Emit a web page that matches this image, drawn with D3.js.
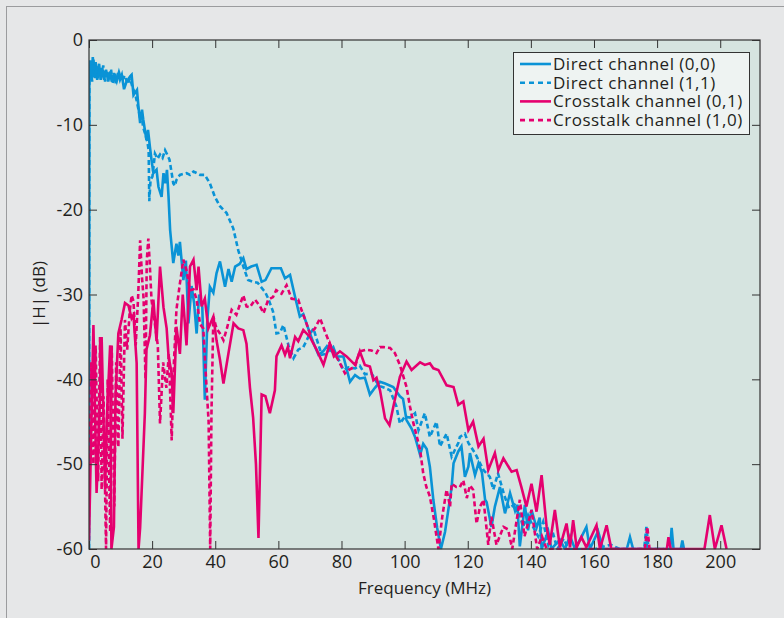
<!DOCTYPE html>
<html>
<head>
<meta charset="utf-8">
<script src="https://cdn.jsdelivr.net/npm/d3@7"></script>
<style>
  html, body { margin: 0; padding: 0; background: #e6e7e8; }
  svg { display: block; font-family: "Open Sans", "Noto Sans", sans-serif; }
</style>
</head>
<body>
<svg id="chart" width="784" height="618"></svg>
<script>
// frequency (MHz), |H| (dB)
const direct00 = [
  [0,-60],[0.1,-5.5],[0.3,-2.4],[0.8,-4.7],[1.2,-2.0],[1.6,-4.3],[2.1,-2.6],[2.6,-4.7],
  [3.2,-2.8],[3.7,-4.7],[4.2,-3.3],[4.8,-4.7],[5.4,-3.5],[6.1,-4.9],[6.7,-3.7],[7.2,-4.9],
  [7.9,-3.9],[8.5,-5.1],[9.2,-3.9],[9.8,-4.7],[10.4,-4.1],[11.1,-5.8],[11.9,-4.9],[13.0,-4.3],
  [13.5,-4.1],[14.1,-6.5],[15.2,-5.9],[15.7,-8],[16.2,-9.8],[16.8,-8.2],[17.2,-9.4],[18.2,-11.8],
  [18.7,-10.6],[19.3,-12.6],[19.8,-14.1],[20.4,-15.7],[21.4,-15.3],[22.0,-17.3],[23.0,-18.5],
  [23.6,-15.7],[24.2,-16.9],[24.7,-15.3],[25.2,-18.5],[25.7,-22.4],[26.7,-26.3],[27.7,-24],
  [28.3,-25.4],[28.8,-23.8],[29.9,-28.3],[30.7,-26],[31.5,-33.4],[32.5,-29],[33.3,-31],
  [34.1,-34.6],[34.9,-30],[35.9,-31.5],[36.7,-42.4],[37.5,-33],[38.3,-29.1],[39.4,-29.8],
  [40.4,-27.5],[41.5,-26.1],[43.1,-29.1],[44.2,-27],[45.2,-28.5],[46.3,-26.7],[47.7,-26.4],
  [48.9,-25.7],[49.9,-27],[51.4,-26.7],[53.1,-26.5],[54.7,-28.5],[55.9,-28.3],[57.8,-26.9],
  [59.4,-26.9],[60.8,-26.9],[62.1,-28.1],[63.7,-27.7],[65.3,-30.3],[66.8,-32.6],[67.9,-32.3],
  [68.9,-33.4],[71.1,-35.7],[72.7,-37.1],[74.2,-36.7],[75.4,-36.1],[76.4,-36.6],[77.4,-36.2],
  [78.5,-37.3],[80.6,-37.3],[82.7,-40.3],[84.3,-39.5],[85.8,-39.9],[87.4,-39.8],[89.0,-41.8],
  [90.6,-41],[92.2,-40.3],[93.8,-40.5],[96.4,-40.9],[98.5,-42],[99.5,-42.3],[100.6,-44.8],
  [102.2,-45.8],[103.3,-46.8],[104.9,-48.9],[105.9,-47.6],[107.0,-48.2],[108.0,-50.3],
  [109.1,-54.2],[110.3,-57.5],[111.5,-60],[112.8,-58],[114.0,-55],[114.9,-52.7],[115.5,-49.9],
  [117.0,-48.5],[118.0,-47.9],[119.1,-51.5],[120.2,-50.3],[120.7,-48.7],[122.3,-51.3],
  [123.4,-49.9],[124.5,-51],[125.5,-54.2],[126.0,-54.5],[127.5,-57.4],[128.6,-55],[130.2,-52.7],
  [131.8,-55.8],[133.4,-53.4],[135.0,-55.5],[135.7,-54.8],[136.5,-59.7],[138.1,-54.8],
  [139.1,-57.8],[140.2,-55.4],[141.8,-57.5],[142.8,-56.3],[143.4,-60],[145.5,-57.9],[146.5,-60],
  [149.2,-58.9],[150.8,-60],[152.4,-58.5],[154.0,-60],[156.0,-58.6],[157.6,-57.4],[158.7,-60],
  [161.3,-57.9],[162.9,-60],[170.4,-60],[171.4,-58.6],[172.4,-60],[176.1,-60],[176.6,-59.3],
  [177.1,-60],[184.1,-60],[184.6,-57.5],[185.2,-60],[187.5,-60],[188.0,-59],[188.5,-60]
];

const direct11 = [
  [0,-60],[0.1,-4.5],[0.5,-3],[1.0,-4.9],[1.4,-2.3],[1.9,-4.5],[2.4,-3.1],[2.9,-4.5],
  [3.5,-3.4],[4.0,-4.4],[4.5,-3],[5.1,-4.9],[5.7,-3.6],[6.4,-4.6],[7.0,-3.5],[7.5,-5.2],
  [8.2,-4],[8.8,-4.8],[9.5,-3.8],[10.1,-4.5],[10.7,-4.6],[11.4,-4.2],[12.2,-5.2],[13.0,-4.5],
  [13.8,-5.6],[14.6,-6.3],[15.3,-7.5],[16.0,-8.8],[16.6,-8.4],[17.1,-10.2],[17.9,-11.2],
  [18.5,-12],[18.9,-13],[19.1,-19],[19.5,-16.5],[20.1,-16.1],[20.9,-13.4],[21.7,-14],
  [22.5,-13.5],[23.3,-13.9],[24.1,-13],[24.9,-13.6],[25.5,-14.1],[26.2,-15.7],[26.7,-16.9],
  [27.2,-17.2],[27.7,-16.5],[28.8,-15.9],[29.8,-15.8],[30.9,-15.7],[32.0,-15.9],[33.1,-15.5],
  [34.2,-15.7],[35.2,-15.9],[36.7,-15.9],[38.3,-16.9],[39.9,-18.5],[41.5,-19.6],[43.6,-20.4],
  [45.7,-22.2],[47.3,-24.8],[48.9,-26.7],[50.4,-28.3],[51.9,-28.5],[53.4,-28.6],[55.3,-29.5],
  [55.8,-29.7],[56.8,-30.5],[58.3,-32],[59.4,-34.6],[60.5,-34.5],[61.6,-33.6],[63.2,-36],
  [64.8,-37.5],[66.3,-36.5],[67.9,-36.2],[69.5,-35],[71.1,-34],[72.1,-35.2],[73.7,-37.1],
  [75.2,-37],[76.3,-36.3],[77.4,-36.9],[79.0,-37.6],[80.6,-38.9],[82.2,-38.6],[84.3,-38.7],
  [85.8,-38.4],[87.4,-39.4],[89.5,-39.3],[91.1,-40.3],[92.2,-40.8],[93.7,-41],[95.4,-41.3],
  [97.4,-43.2],[98.5,-45.2],[100.1,-44.4],[101.7,-44.5],[103.3,-44],[104.4,-46],[106.4,-44],
  [108.0,-46.8],[110.1,-45],[111.2,-47.9],[113.3,-46.4],[114.9,-49.1],[117.0,-47.5],
  [117.5,-46.8],[119.1,-46.4],[120.2,-47.5],[122.3,-48.7],[125.0,-50.7],[127.0,-51.5],
  [128.1,-53],[129.6,-51.1],[131.6,-53.7],[133.1,-55.2],[135.5,-54.6],[137.5,-57.4],[139.1,-56],
  [140.7,-57.4],[142.3,-58.5],[143.9,-56.8],[145.5,-59.5],[146.9,-58],[148.4,-60],[150.4,-58.8],
  [151.9,-60],[160.3,-60],[165.3,-59.5],[168.2,-60],[175.9,-60],[176.6,-57.4],[177.3,-60],[182.1,-60]
];

const cross01 = [
  [0,-59],[1.4,-33.6],[2.4,-53.4],[3.0,-48],[4.0,-35],[5.1,-53],[5.6,-45],[6.7,-36],
  [7.1,-60],[7.9,-57.4],[8.4,-42],[9.3,-34.6],[10.3,-33],[11.4,-31],[12.5,-31.3],[13.5,-32.8],
  [14.1,-32.4],[15.1,-38.1],[15.7,-60],[16.2,-57.5],[17.7,-44],[18.2,-36.5],[19.3,-34.8],
  [20.4,-30.6],[21.4,-35.5],[22.5,-26.7],[23.6,-31.5],[24.6,-34],[25.2,-37.3],[26.2,-39.3],
  [26.7,-44],[27.7,-33.8],[28.8,-37],[29.7,-30],[30.9,-36],[32.0,-26.7],[33.1,-25.9],
  [34.1,-29.5],[34.7,-26.7],[35.7,-31.4],[36.7,-30.5],[37.8,-34],[39.4,-32.6],[40.4,-35.4],
  [41.5,-37.7],[42.6,-40.5],[44.2,-36.9],[45.8,-33.4],[47.3,-34],[48.9,-34.2],[49.9,-35.8],
  [51.0,-41],[52.0,-44.5],[52.9,-50],[53.7,-58.7],[54.7,-41.8],[55.9,-42],[57.3,-44],
  [58.9,-41.3],[59.4,-37.3],[61.0,-36],[62.1,-37.1],[63.0,-36.2],[63.7,-37.5],[65.3,-35],
  [66.3,-35.5],[67.9,-34.2],[70.0,-35],[72.1,-36.5],[74.3,-38.3],[76.3,-35.8],[77.6,-37.3],
  [79.5,-36.7],[81.6,-37.3],[84.3,-38.3],[85.8,-36.7],[87.4,-38.3],[89.0,-38.5],[90.1,-40.1],
  [91.1,-39.8],[92.2,-41.3],[93.8,-44.6],[95.2,-45.4],[96.9,-42.4],[98.5,-39.7],[100.6,-37.9],
  [102.2,-38.9],[104.9,-38],[106.4,-38.3],[108.0,-38.1],[109.1,-38.7],[110.7,-38.9],
  [113.3,-40.7],[115.5,-40.9],[117.0,-43],[118.6,-42.6],[120.2,-46],[121.7,-45],[123.4,-47.9],
  [125.0,-47],[126.5,-50.7],[128.6,-48.7],[129.7,-50.7],[131.3,-49.3],[133.9,-50.9],
  [135.5,-50.7],[137.0,-52.7],[138.6,-55],[140.2,-52.3],[141.8,-55.6],[143.4,-51.3],
  [145.0,-57.4],[146.0,-59.5],[147.6,-55.4],[149.2,-59.8],[151.3,-57],[152.4,-59.8],[153.4,-56.6],
  [154.5,-59.8],[156.0,-58.6],[157.6,-59.8],[160.8,-57.2],[161.9,-60],[164.0,-57.2],
  [165.5,-60],[183.1,-60],[183.6,-58.6],[184.3,-60],[195.0,-60],[196.7,-56],[198.3,-60],
  [200.4,-57.2],[202.0,-60]
];

const cross10 = [
  [0,-55],[0.7,-38],[1.4,-50],[2.1,-36],[2.9,-52],[3.5,-35],[4.0,-53],[4.6,-42],[5.4,-60],
  [5.9,-40],[6.7,-58],[7.2,-36],[8.0,-55],[8.6,-38],[9.3,-48],[10.0,-34],[10.6,-47],[11.4,-33],
  [12.1,-36.5],[12.9,-32],[13.5,-30.1],[14.1,-30.8],[14.8,-36],[15.6,-30],[16.2,-23.6],[16.8,-28],
  [17.3,-30.5],[17.9,-40],[18.3,-26],[18.8,-23.4],[19.2,-26],[19.8,-30.6],[20.7,-33],[21.8,-36],
  [22.5,-45.2],[23.5,-38],[24.5,-41],[25.3,-37],[26.2,-47.2],[26.9,-38],[27.7,-31.8],
  [28.8,-28.7],[29.9,-25.9],[31.0,-27.3],[32.0,-29.5],[33.1,-29.4],[34.1,-30.6],[35.2,-33.5],
  [36.2,-34],[37.1,-40],[37.9,-45],[38.4,-60],[38.8,-44],[39.4,-32.6],[40.4,-34],[41.5,-34.6],
  [42.6,-35.4],[43.7,-34],[45.2,-31.8],[46.7,-32.4],[47.8,-31.2],[48.9,-30.1],[49.9,-31.4],
  [51.0,-31.5],[52.6,-30.6],[54.2,-31.4],[55.3,-32.2],[56.8,-30.6],[58.3,-30.3],[59.3,-29.5],
  [61.0,-29.9],[62.6,-28.9],[64.2,-30.5],[66.3,-30.6],[67.3,-31.8],[68.9,-33.4],[70.0,-34.6],
  [71.6,-34],[73.2,-32.8],[74.8,-34.4],[76.3,-35.8],[77.9,-37],[79.5,-38.1],[81.1,-39.3],
  [82.2,-38.9],[84.3,-38.5],[85.8,-36.7],[87.9,-36.5],[89.5,-36.6],[91.1,-36.9],[92.2,-36.2],
  [93.3,-36.2],[95.4,-36.3],[96.9,-36.9],[98.5,-38.3],[100.6,-40.9],[101.7,-43.2],[102.8,-45.2],
  [103.9,-46.8],[104.9,-48.3],[105.9,-51.1],[106.9,-52.7],[108.0,-53.8],[109.3,-56.5],[110.7,-60],
  [112.0,-56],[113.3,-53],[114.4,-55],[114.9,-52.3],[116.4,-52.7],[117.5,-52.7],[118.6,-51.9],
  [119.7,-54],[120.7,-52.5],[121.7,-53],[122.8,-57],[123.9,-55],[125.0,-54.2],[126.5,-59.5],
  [127.5,-56.2],[129.1,-59.5],[131.3,-57.4],[132.8,-57.7],[134.1,-60],[136.5,-54.2],
  [138.0,-58.5],[140.2,-55.4],[142.0,-60],[143.5,-58.5],[145.0,-60],[176.1,-60],[176.9,-57.4],
  [177.6,-60]
];

const seriesNames = ["Direct channel (0,0)", "Direct channel (1,1)", "Crosstalk channel (0,1)", "Crosstalk channel (1,0)"];
const xTicks = [0, 20, 40, 60, 80, 100, 120, 140, 160, 180, 200];
const yTicks = [0, -10, -20, -30, -40, -50, -60];

const BLUE = "#0a93d6", PINK = "#e5006f";
const series = [
  { name: seriesNames[0], data: direct00, color: BLUE, dash: null },
  { name: seriesNames[1], data: direct11, color: BLUE, dash: "5,3" },
  { name: seriesNames[2], data: cross01, color: PINK, dash: null },
  { name: seriesNames[3], data: cross10, color: PINK, dash: "5,3" }
];

const svg = d3.select("#chart");
const pL = 89, pR = 760, pT = 40, pB = 549;

// outer frame
svg.append("rect").attr("x", 6.5).attr("y", 6.5).attr("width", 790).attr("height", 700)
  .attr("fill", "#e6e7e8").attr("stroke", "#9b9c9e").attr("stroke-width", 1);

const x = d3.scaleLinear().domain([0, 212.6]).range([pL, pR]);
const y = d3.scaleLinear().domain([-60, 0]).range([pB, pT]);

svg.append("rect").attr("x", pL).attr("y", pT)
  .attr("width", pR - pL).attr("height", pB - pT).attr("fill", "#d6e4e0");

svg.append("clipPath").attr("id", "clip").append("rect")
  .attr("x", pL).attr("y", pT - 2).attr("width", pR - pL).attr("height", pB - pT + 3);

const line = d3.line().x(d => x(d[0])).y(d => y(d[1]));
const plot = svg.append("g").attr("clip-path", "url(#clip)");
series.forEach(s => {
  plot.append("path").datum(s.data)
    .attr("d", line)
    .attr("fill", "none")
    .attr("stroke", s.color)
    .attr("stroke-width", 2.6)
    .attr("stroke-linejoin", "miter")
    .attr("stroke-dasharray", s.dash);
});

// axes with inward ticks
const fmt = d => String(d);
const styleAxis = g => {
  g.select(".domain").remove();
  g.selectAll(".tick line").attr("stroke", "#333");
  g.selectAll(".tick text").attr("fill", "#231f20").style("font-size", "18px")
    .style("font-family", "'Open Sans', 'Noto Sans', sans-serif");
};
svg.append("g").attr("transform", `translate(0,${pB})`)
  .call(d3.axisBottom(x).tickValues(xTicks).tickFormat(fmt).tickSizeInner(-8).tickSizeOuter(0).tickPadding(6))
  .call(styleAxis)
  .selectAll(".tick text").filter(d => d === 0).attr("dx", 6); // nudged off the y axis, as in the original
svg.append("g").attr("transform", `translate(0,${pT})`)
  .call(d3.axisTop(x).tickValues(xTicks).tickFormat("").tickSizeInner(-8).tickSizeOuter(0))
  .call(styleAxis);
svg.append("g").attr("transform", `translate(${pL},0)`)
  .call(d3.axisLeft(y).tickValues(yTicks).tickFormat(fmt).tickSizeInner(-8).tickSizeOuter(0).tickPadding(6))
  .call(styleAxis);
svg.append("g").attr("transform", `translate(${pR},0)`)
  .call(d3.axisRight(y).tickValues(yTicks).tickFormat("").tickSizeInner(-8).tickSizeOuter(0))
  .call(styleAxis);

svg.append("rect").attr("x", pL).attr("y", pT)
  .attr("width", pR - pL).attr("height", pB - pT)
  .attr("fill", "none").attr("stroke", "#333").attr("stroke-width", 1.2);

// axis titles
svg.append("text").attr("x", (pL + pR) / 2).attr("y", 594)
  .attr("text-anchor", "middle").attr("fill", "#231f20").style("font-size", "17px")
  .text("Frequency (MHz)");
svg.append("text").attr("transform", `translate(45,${(pT + pB) / 2}) rotate(-90)`)
  .attr("text-anchor", "middle").attr("fill", "#231f20").style("font-size", "17px")
  .text("|H| (dB)");

// legend
const lg = svg.append("g");
lg.append("rect").attr("x", 513.5).attr("y", 52.5).attr("width", 236).attr("height", 82)
  .attr("fill", "#eef3f2").attr("stroke", "#333").attr("stroke-width", 1);
series.forEach((s, i) => {
  const yy = 64 + i * 18.7;
  lg.append("line").attr("x1", 520).attr("x2", 551).attr("y1", yy).attr("y2", yy)
    .attr("stroke", s.color).attr("stroke-width", 2.6).attr("stroke-dasharray", s.dash ? "5,4" : null);
  lg.append("text").attr("x", 553).attr("y", yy).attr("dy", "0.35em")
    .attr("fill", "#231f20").style("font-size", "17px").style("letter-spacing", "0.5px")
    .text(s.name);
});
</script>
</body>
</html>
